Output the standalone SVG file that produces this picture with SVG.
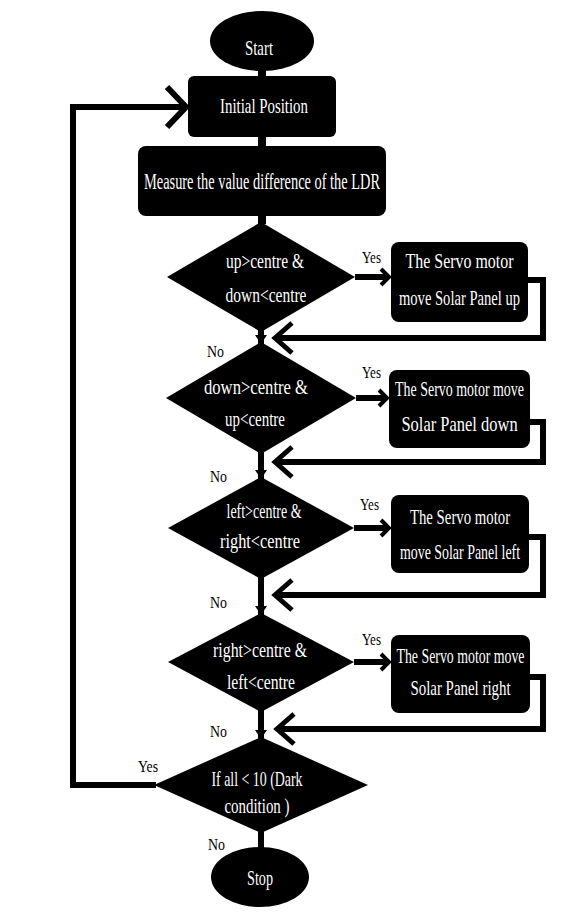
<svg xmlns="http://www.w3.org/2000/svg" width="563" height="916" viewBox="0 0 563 916">
<style>
.n{fill:#000}
.t{font-family:"Liberation Serif","DejaVu Serif",serif;fill:#fff;text-anchor:middle;font-size:21px}
.l{font-family:"Liberation Serif","DejaVu Serif",serif;fill:#000;font-size:17px}
.c{fill:none;stroke:#000;stroke-width:6}
</style>
<defs>
<marker id="chev" markerUnits="userSpaceOnUse" orient="auto" overflow="visible" refX="0" refY="0" markerWidth="1" markerHeight="1"><path d="M-17,-15 L0,0 L-17,15" fill="none" stroke="#000" stroke-width="5"/></marker>
<marker id="chevB" markerUnits="userSpaceOnUse" orient="auto" overflow="visible" refX="0" refY="0" markerWidth="1" markerHeight="1"><path d="M-19,-20 L0,0 L-19,20" fill="none" stroke="#000" stroke-width="6"/></marker>
<marker id="chevS" markerUnits="userSpaceOnUse" orient="auto" overflow="visible" refX="0" refY="0" markerWidth="1" markerHeight="1"><path d="M-8,-8 L0,0 L-8,8" fill="none" stroke="#000" stroke-width="4"/></marker>
<marker id="tri" markerUnits="userSpaceOnUse" orient="auto" overflow="visible" refX="0" refY="0" markerWidth="1" markerHeight="1"><path d="M-9,-6 L0,0 L-9,6 Z" fill="#000"/></marker>
</defs>
<rect width="563" height="916" fill="#fff"/>
<g id="connectors">
<line class="c" x1="262" y1="68" x2="262" y2="78" style="stroke-width:8"/>
<line class="c" x1="262" y1="135" x2="262" y2="148" style="stroke-width:8"/>
<line class="c" x1="262" y1="214" x2="262" y2="224" style="stroke-width:8"/>
<line class="c" x1="355" y1="277" x2="389" y2="277" marker-end="url(#chevS)"/>
<path class="c" d="M528,280 H543 V338 H275" marker-end="url(#chev)"/>
<line class="c" x1="261" y1="330" x2="261" y2="344" marker-end="url(#tri)"/>
<line class="c" x1="356" y1="398" x2="387" y2="398" marker-end="url(#chevS)"/>
<path class="c" d="M530,422 H543 V462 H275" marker-end="url(#chev)"/>
<line class="c" x1="261" y1="452" x2="261" y2="479" marker-end="url(#tri)"/>
<line class="c" x1="354" y1="528" x2="389" y2="528" marker-end="url(#chevS)"/>
<path class="c" d="M529,537 H543 V595 H275" marker-end="url(#chev)"/>
<line class="c" x1="261" y1="577" x2="261" y2="615" marker-end="url(#tri)"/>
<line class="c" x1="354" y1="662" x2="389" y2="662" marker-end="url(#chevS)"/>
<path class="c" d="M530,677 H543 V729 H277" marker-end="url(#chev)"/>
<line class="c" x1="261" y1="710" x2="261" y2="739" marker-end="url(#tri)"/>
<path class="c" d="M156,785 H73 V107 H186" marker-end="url(#chevB)"/>
<line class="c" x1="261" y1="831" x2="261" y2="849"/>
<text class="l" x="362" y="263" textLength="19" lengthAdjust="spacingAndGlyphs">Yes</text>
<text class="l" x="362" y="378" textLength="19" lengthAdjust="spacingAndGlyphs">Yes</text>
<text class="l" x="360" y="510" textLength="19" lengthAdjust="spacingAndGlyphs">Yes</text>
<text class="l" x="362" y="645" textLength="19" lengthAdjust="spacingAndGlyphs">Yes</text>
<text class="l" x="138" y="772" textLength="20" lengthAdjust="spacingAndGlyphs">Yes</text>
<text class="l" x="207" y="357" textLength="17" lengthAdjust="spacingAndGlyphs">No</text>
<text class="l" x="210" y="482" textLength="17" lengthAdjust="spacingAndGlyphs">No</text>
<text class="l" x="210" y="608" textLength="17" lengthAdjust="spacingAndGlyphs">No</text>
<text class="l" x="210" y="737" textLength="17" lengthAdjust="spacingAndGlyphs">No</text>
<text class="l" x="208" y="850" textLength="17" lengthAdjust="spacingAndGlyphs">No</text>
</g>
<g id="start">
<ellipse class="n" cx="262" cy="41" rx="52" ry="30"/>
<text class="t" x="259" y="55" textLength="28" lengthAdjust="spacingAndGlyphs">Start</text>
</g>
<g id="initial">
<rect class="n" x="188" y="76" width="148" height="61" rx="6"/>
<text class="t" x="264" y="113" textLength="88" lengthAdjust="spacingAndGlyphs" style="font-size:22px">Initial Position</text>
</g>
<g id="measure">
<rect class="n" x="138" y="146" width="248" height="70" rx="8"/>
<text class="t" x="262" y="189" textLength="236" lengthAdjust="spacingAndGlyphs" style="font-size:23px">Measure the value difference of the LDR</text>
</g>
<g id="d1">
<polygon class="n" points="261,222 355,277 261,332 167,277"/>
<text class="t" x="265" y="268" textLength="78" lengthAdjust="spacingAndGlyphs">up&gt;centre &amp;</text>
<text class="t" x="266" y="302" textLength="81" lengthAdjust="spacingAndGlyphs">down&lt;centre</text>
</g>
<g id="b1">
<rect class="n" x="391" y="242" width="137" height="80" rx="8"/>
<text class="t" transform="translate(459.5,268) scale(0.76,1)" textLength="142" lengthAdjust="spacingAndGlyphs">The Servo motor</text>
<text class="t" transform="translate(459.5,305) scale(0.7,1)" textLength="173" lengthAdjust="spacingAndGlyphs">move Solar Panel up</text>
</g>
<g id="d2">
<polygon class="n" points="261,342 356,398 261,454 166,398"/>
<text class="t" x="256" y="394" textLength="104" lengthAdjust="spacingAndGlyphs">down&gt;centre &amp;</text>
<text class="t" x="255" y="426" textLength="60" lengthAdjust="spacingAndGlyphs">up&lt;centre</text>
</g>
<g id="b2">
<rect class="n" x="389" y="370" width="141" height="78" rx="8"/>
<text class="t" transform="translate(459.5,396) scale(0.665,1)" textLength="194" lengthAdjust="spacingAndGlyphs">The Servo motor move</text>
<text class="t" transform="translate(459.5,431) scale(0.78,1)" textLength="149" lengthAdjust="spacingAndGlyphs">Solar Panel down</text>
</g>
<g id="d3">
<polygon class="n" points="261,477 354,528 261,579 168,528"/>
<text class="t" x="264" y="518" textLength="75" lengthAdjust="spacingAndGlyphs">left&gt;centre &amp;</text>
<text class="t" x="260" y="548" textLength="80" lengthAdjust="spacingAndGlyphs">right&lt;centre</text>
</g>
<g id="b3">
<rect class="n" x="391" y="495" width="138" height="78" rx="8"/>
<text class="t" transform="translate(460,524) scale(0.7,1)" textLength="143" lengthAdjust="spacingAndGlyphs">The Servo motor</text>
<text class="t" transform="translate(460,559) scale(0.66,1)" textLength="182" lengthAdjust="spacingAndGlyphs">move Solar Panel left</text>
</g>
<g id="d4">
<polygon class="n" points="261,613 354,662 261,712 168,662"/>
<text class="t" x="260" y="657" textLength="94" lengthAdjust="spacingAndGlyphs">right&gt;centre &amp;</text>
<text class="t" x="261" y="689" textLength="68" lengthAdjust="spacingAndGlyphs">left&lt;centre</text>
</g>
<g id="b4">
<rect class="n" x="391" y="635" width="139" height="78" rx="8"/>
<text class="t" transform="translate(460.5,663) scale(0.66,1)" textLength="194" lengthAdjust="spacingAndGlyphs">The Servo motor move</text>
<text class="t" transform="translate(460.5,695) scale(0.71,1)" textLength="141" lengthAdjust="spacingAndGlyphs">Solar Panel right</text>
</g>
<g id="d5">
<polygon class="n" points="261,737 368,785 261,833 154,785"/>
<text class="t" x="257" y="786" textLength="91" lengthAdjust="spacingAndGlyphs">If all &lt; 10 (Dark</text>
<text class="t" x="257" y="813" textLength="65" lengthAdjust="spacingAndGlyphs">condition )</text>
</g>
<g id="stop">
<ellipse class="n" cx="260" cy="877" rx="49" ry="30"/>
<text class="t" x="260" y="885" textLength="26" lengthAdjust="spacingAndGlyphs">Stop</text>
</g>
</svg>
